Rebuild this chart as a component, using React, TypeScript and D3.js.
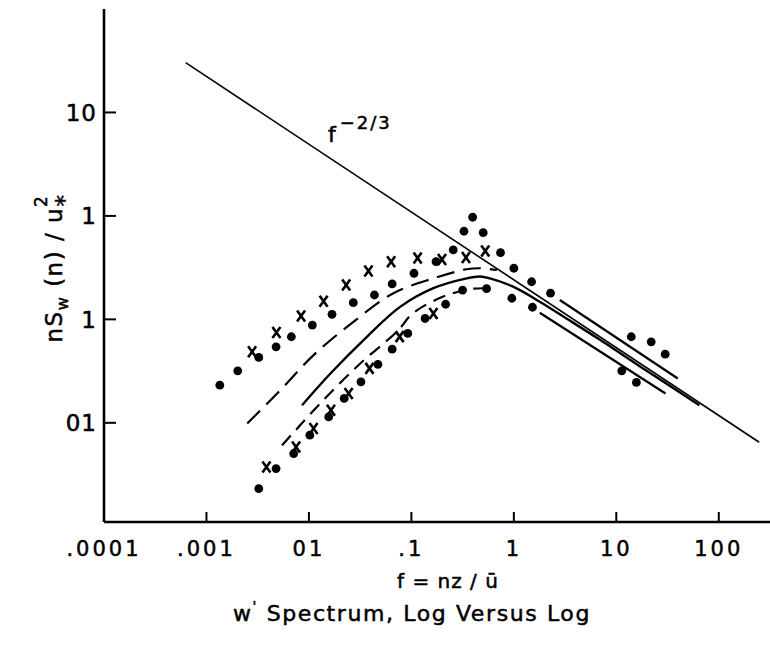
import React from "react";
import * as d3 from "d3";

// ---- data (f = nz/u, value = nS_w(n)/u*^2) ----
const xTickValues = [0.0001, 0.001, 0.01, 0.1, 1, 10, 100];
const xTickLabels = [".0001", ".001", "01", ".1", "1", "10", "100"];
const yTickValues = [10, 1, 0.1, 0.01];
const yTickLabels = ["10", "1", "1", "01"];

// f^-2/3 reference line end points
const refLine: [number, number][] = [[0.000626, 30.3], [248, 0.00649]];

// upper dot series
const dotsUpper: [number, number][] = [
  [0.00135, 0.0231], [0.00202, 0.0318], [0.00324, 0.0429], [0.00478, 0.0543],
  [0.00674, 0.0679], [0.0108, 0.0881], [0.0168, 0.112], [0.0271, 0.145],
  [0.0436, 0.172], [0.0649, 0.22], [0.106, 0.279], [0.174, 0.361],
  [0.256, 0.469], [0.326, 0.711], [0.396, 0.971], [0.502, 0.689],
  [0.741, 0.441], [1.0, 0.312], [1.49, 0.231], [2.28, 0.179],
  [14.0, 0.0679], [21.9, 0.0607], [30.0, 0.0461],
];
// lower dot series
const dotsLower: [number, number][] = [
  [0.00324, 0.00231], [0.00478, 0.00361], [0.0071, 0.00505], [0.0102, 0.00759],
  [0.0156, 0.0114], [0.0221, 0.0172], [0.0322, 0.0249], [0.0471, 0.0367],
  [0.0649, 0.0515], [0.0922, 0.0731], [0.136, 0.102], [0.216, 0.14],
  [0.316, 0.192], [0.542, 0.198], [0.956, 0.16], [1.52, 0.131],
  [11.3, 0.0318], [15.7, 0.0246],
];
// upper cross series
const crossUpper: [number, number][] = [
  [0.00279, 0.0486], [0.00482, 0.0748], [0.00838, 0.108], [0.0139, 0.15],
  [0.0231, 0.215], [0.0381, 0.294], [0.0634, 0.361], [0.115, 0.392],
  [0.199, 0.379], [0.341, 0.396], [0.526, 0.458],
];
// lower cross series
const crossLower: [number, number][] = [
  [0.00385, 0.00374], [0.00749, 0.00585], [0.0111, 0.00881], [0.0164, 0.0132],
  [0.0244, 0.0192], [0.039, 0.0336], [0.0768, 0.0681], [0.164, 0.114],
];
// curves
const dashedUpper: [number, number][] = [
  [0.0025, 0.00984], [0.00527, 0.0207], [0.0111, 0.0451], [0.0272, 0.0948],
  [0.0668, 0.179], [0.164, 0.249], [0.346, 0.305], [0.467, 0.312], [0.683, 0.3],
];
const tailUpper: [number, number][] = [[2.81, 0.154], [39.8, 0.0268]];
const solidCurve: [number, number][] = [
  [0.00857, 0.0148], [0.0162, 0.03], [0.0368, 0.0679], [0.0776, 0.132],
  [0.164, 0.2], [0.346, 0.249], [0.467, 0.26], [0.584, 0.249],
  [0.984, 0.207], [1.79, 0.148], [3.26, 0.102], [6.87, 0.0638],
  [16.9, 0.0353], [64.7, 0.0148],
];
const dashedLower: [number, number][] = [
  [0.00547, 0.00607], [0.0129, 0.0154], [0.0317, 0.0375], [0.0721, 0.0759],
  [0.104, 0.115], [0.205, 0.166], [0.373, 0.196], [0.5, 0.2],
];
const tailLower: [number, number][] = [[1.79, 0.116], [30.2, 0.0192]];

const W = 770;
const H = 645;
const FONT = "'DejaVu Sans', sans-serif";
const TXT = { fontFamily: FONT, fill: "#000", stroke: "#000", strokeWidth: 0.5 };

export default function App() {
  const x = d3.scaleLog().domain([1e-4, Math.pow(10, 2.5)]).range([104, 770]);
  const y = d3.scaleLog().domain([0.0011, 100]).range([522, 9]);
  const line = d3
    .line<[number, number]>()
    .x((d) => x(d[0]))
    .y((d) => y(d[1]))
    .curve(d3.curveCatmullRom.alpha(0.5));
  const straight = d3
    .line<[number, number]>()
    .x((d) => x(d[0]))
    .y((d) => y(d[1]));

  const x0 = x.range()[0];
  const y0 = y.range()[0];

  return (
    <svg
      width={W}
      height={H}
      style={{ position: "absolute", left: 0, top: 0, background: "#fff" }}
    >
      <rect width={W} height={H} fill="#fff" />
      {/* axes */}
      <line x1={x0} y1={y(100)} x2={x0} y2={y0} stroke="#000" strokeWidth={2.6} />
      <line x1={x0} y1={y0} x2={W} y2={y0} stroke="#000" strokeWidth={2.6} />
      {xTickValues.map((v, i) => (
        <g key={"xt" + i}>
          <line x1={x(v)} x2={x(v)} y1={y0} y2={y0 - 10} stroke="#000" strokeWidth={2} />
          <text x={x(v)} y={556} textAnchor="middle" fontSize={21} letterSpacing={3} {...TXT}>
            {xTickLabels[i]}
          </text>
        </g>
      ))}
      {yTickValues.map((v, i) => (
        <g key={"yt" + i}>
          <line x1={x0} x2={x0 + 12} y1={y(v)} y2={y(v)} stroke="#000" strokeWidth={2} />
          <text x={97} y={y(v) + 8.5} textAnchor="end" fontSize={23} letterSpacing={1} {...TXT}>
            {yTickLabels[i]}
          </text>
        </g>
      ))}

      {/* reference line */}
      <path d={straight(refLine) || ""} fill="none" stroke="#000" strokeWidth={1.6} />
      <text x={328} y={142} fontSize={22} {...TXT}>
        f
        <tspan dx={4} dy={-13} fontSize={18} letterSpacing={2}>
          −2/3
        </tspan>
      </text>

      {/* curves */}
      <path d={line(dashedUpper) || ""} fill="none" stroke="#000" strokeWidth={2.2} strokeDasharray="18 9" />
      <path d={straight(tailUpper) || ""} fill="none" stroke="#000" strokeWidth={2.2} />
      <path d={line(solidCurve) || ""} fill="none" stroke="#000" strokeWidth={2.4} />
      <path d={line(dashedLower) || ""} fill="none" stroke="#000" strokeWidth={2.2} strokeDasharray="13 8" />
      <path d={straight(tailLower) || ""} fill="none" stroke="#000" strokeWidth={2.2} />

      {/* dots */}
      {dotsUpper.concat(dotsLower).map((d, i) => (
        <circle key={"d" + i} cx={x(d[0])} cy={y(d[1])} r={4.4} fill="#000" />
      ))}
      {/* crosses */}
      {crossUpper.concat(crossLower).map((d, i) => {
        const cx = x(d[0]);
        const cy = y(d[1]);
        return (
          <g key={"c" + i} stroke="#000" strokeWidth={2.6}>
            <line x1={cx - 4} y1={cy - 5.5} x2={cx + 4} y2={cy + 5.5} />
            <line x1={cx + 4} y1={cy - 5.5} x2={cx - 4} y2={cy + 5.5} />
          </g>
        );
      })}

      {/* axis titles */}
      <text x={448} y={588} textAnchor="middle" fontSize={20} letterSpacing={1} {...TXT}>
        f = nz / ū
      </text>
      <text x={412} y={621} textAnchor="middle" fontSize={22} letterSpacing={1.6} {...TXT}>
        w
        <tspan dy={-10} fontSize={14}>
          {"'"}
        </tspan>
        <tspan dy={10}>{" Spectrum, Log  Versus Log"}</tspan>
      </text>
      <text transform="translate(62,268) rotate(-90)" textAnchor="middle" fontSize={23} letterSpacing={1.5} {...TXT}>
        nS
        <tspan dy={6} fontSize={16}>
          w
        </tspan>
        <tspan dy={-6}>{"  (n) / u"}</tspan>
        <tspan dy={-15} fontSize={17}>
          2
        </tspan>
        <tspan dx={-12} dy={25} fontSize={23}>
          *
        </tspan>
      </text>
    </svg>
  );
}
